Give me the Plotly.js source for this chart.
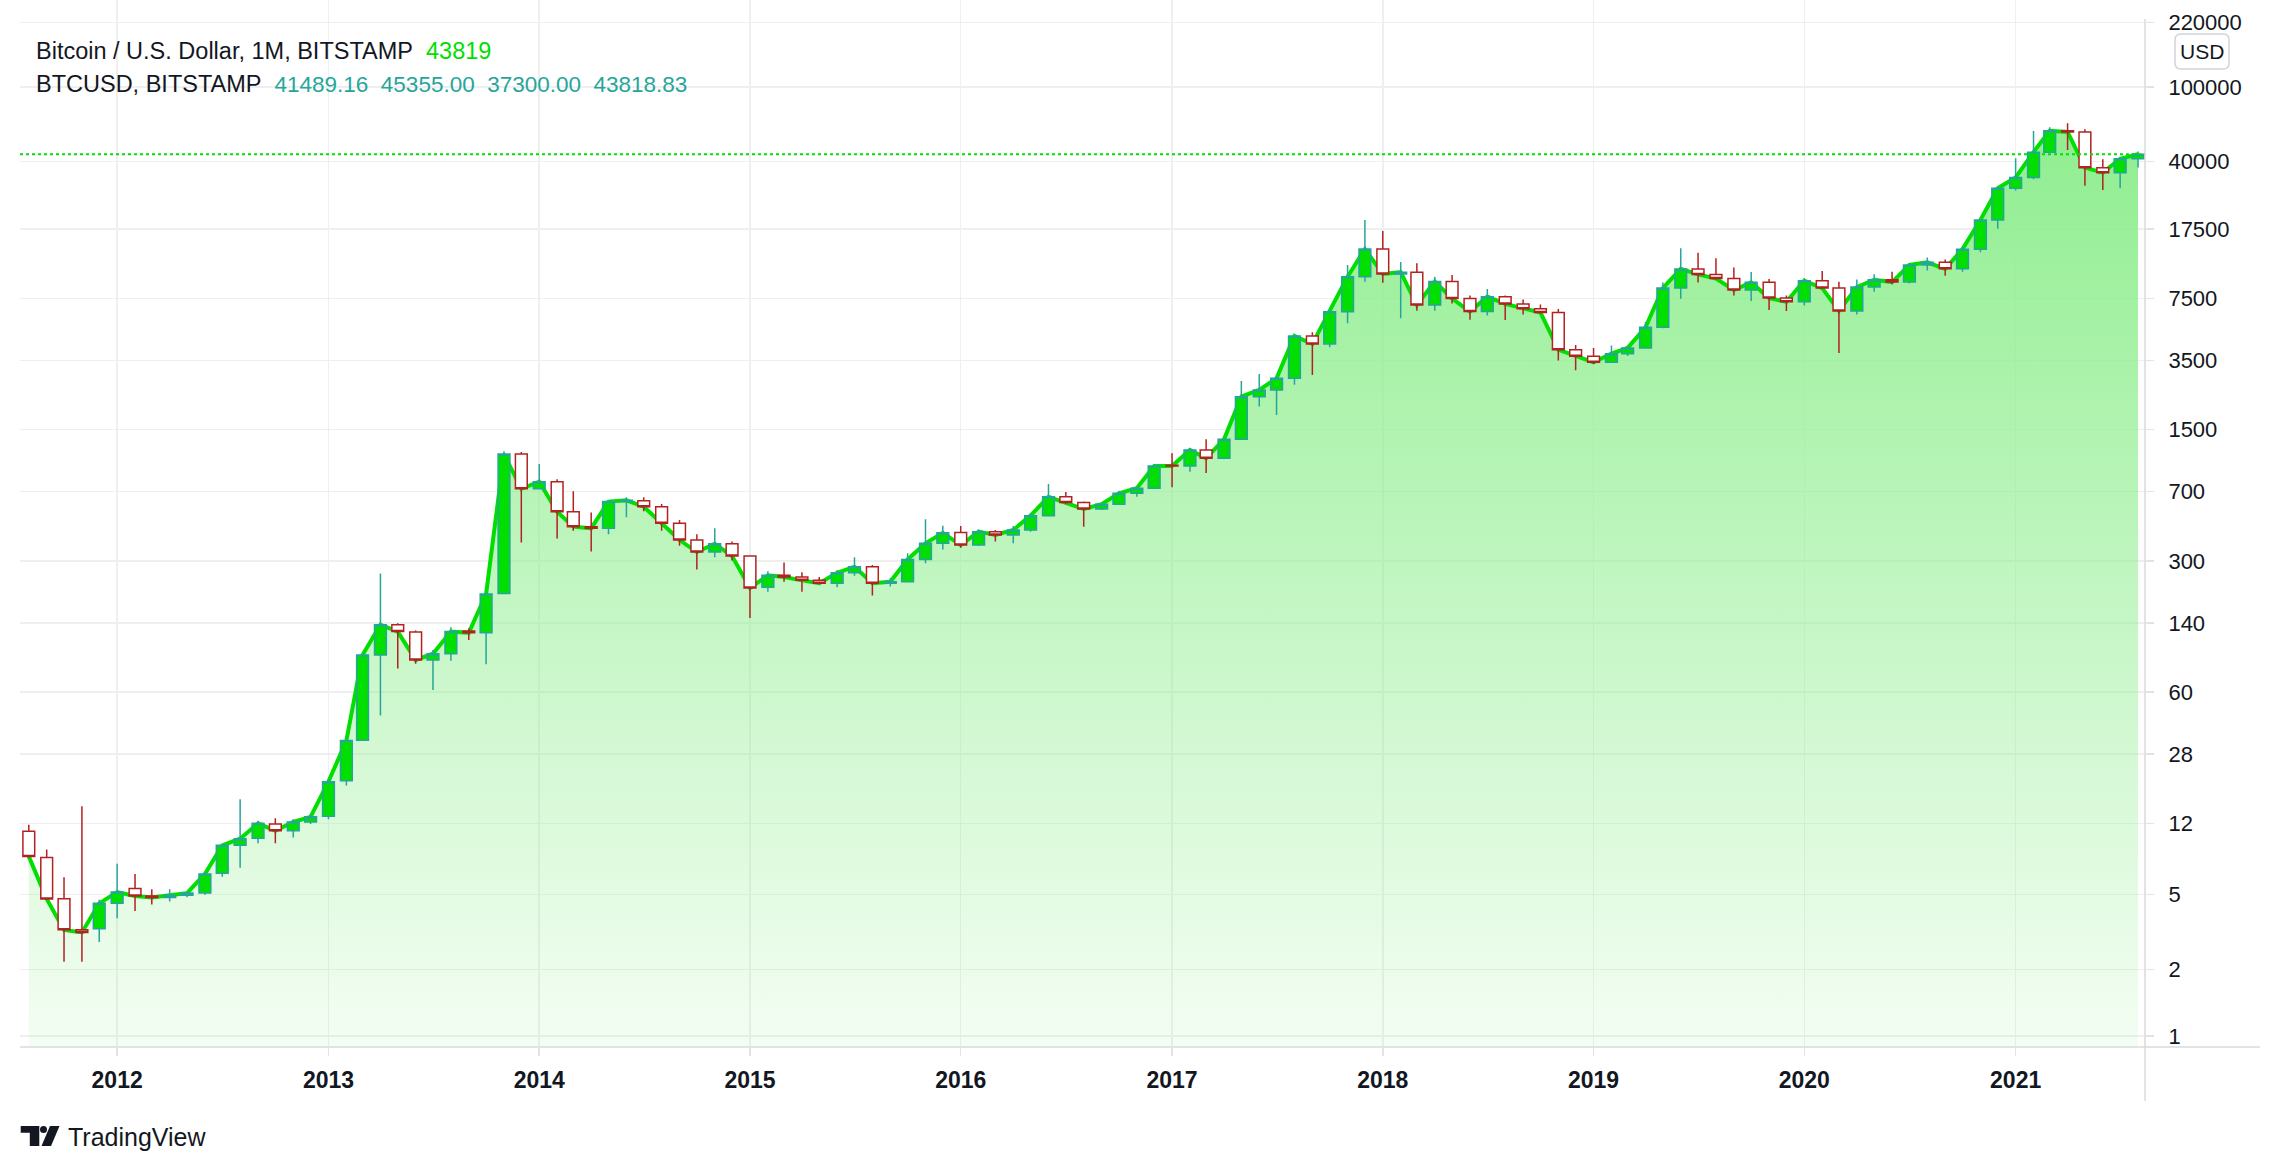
<!DOCTYPE html>
<html><head><meta charset="utf-8">
<script src="https://cdn.plot.ly/plotly-3.0.1.min.js"></script>
<style>html,body{margin:0;padding:0;background:#fff;}#chart{width:2280px;height:1172px;}</style>
</head><body><div id="chart"></div>
<script>
const months = [
'2011-08','2011-09','2011-10','2011-11','2011-12',
'2012-01','2012-02','2012-03','2012-04','2012-05','2012-06','2012-07','2012-08','2012-09','2012-10','2012-11','2012-12',
'2013-01','2013-02','2013-03','2013-04','2013-05','2013-06','2013-07','2013-08','2013-09','2013-10','2013-11','2013-12',
'2014-01','2014-02','2014-03','2014-04','2014-05','2014-06','2014-07','2014-08','2014-09','2014-10','2014-11','2014-12',
'2015-01','2015-02','2015-03','2015-04','2015-05','2015-06','2015-07','2015-08','2015-09','2015-10','2015-11','2015-12',
'2016-01','2016-02','2016-03','2016-04','2016-05','2016-06','2016-07','2016-08','2016-09','2016-10','2016-11','2016-12',
'2017-01','2017-02','2017-03','2017-04','2017-05','2017-06','2017-07','2017-08','2017-09','2017-10','2017-11','2017-12',
'2018-01','2018-02','2018-03','2018-04','2018-05','2018-06','2018-07','2018-08','2018-09','2018-10','2018-11','2018-12',
'2019-01','2019-02','2019-03','2019-04','2019-05','2019-06','2019-07','2019-08','2019-09','2019-10','2019-11','2019-12',
'2020-01','2020-02','2020-03','2020-04','2020-05','2020-06','2020-07','2020-08','2020-09','2020-10','2020-11','2020-12',
'2021-01','2021-02','2021-03','2021-04','2021-05','2021-06','2021-07','2021-08'];

const openP = [
10.9,7.9,4.76,3.25,3.3,
4.5,5.4,4.92,4.84,4.97,5.1,6.5,9.16,10.0,11.9,10.96,12.2,
13.1,20.2,33.2,94.5,137,125.3,89,96,127,124,201,1110,
725,791,548,456,447,620,627,582,475,387,334,370,
318,217,251,246,236,228,259,279,228,232,305,372,
424,364,429,412,438,522,658,614,566,600,686,730,
968,960,1167,1055,1330,2245,2436,2810,4721,4281,6364,9772,
13722,10100,10330,6904,9200,7480,6370,7650,7000,6600,6300,3990,
3680,3420,3800,4080,5250,8500,10750,10050,9550,8300,9120,7520,
7180,9300,8500,6420,8600,9420,9150,11280,11650,10760,13700,19600,
28900,33000,45000,58500,57600,37200,35000,41489.16];

const highP = [
11.8,8.7,6.2,14.8,4.7,
7.3,6.45,5.34,5.34,5.15,6.55,9.2,16.1,12.4,12.76,12.6,13.4,
20.6,33.6,95.3,257,139.4,127.5,100.5,133,131,200,1150,1140,
983,815,703,543,625,653,653,602,495,415,447,380,
320,264,294,261,246,267,313,285,242,329,499,461,
460,440,438,460,537,769,697,620,608,709,744,970,
1121,1190,1330,1345,2719,2965,2900,4750,4940,6450,11273,19580,
17100,11700,11510,9760,9990,7770,8400,7760,7390,6950,6580,4230,
4070,4200,4130,5600,9100,13840,13100,12250,10950,10350,9500,7750,
9580,10480,9180,9450,10070,10380,11450,12380,12060,14100,19850,29300,
41700,58300,61000,64100,59500,41200,42300,45355.00];

const lowP = [
7.9,4.7,2.2,2.2,2.8,
3.75,4.1,4.44,4.6,4.85,5.0,6.24,6.97,9.39,9.39,10.1,11.9,
12.6,19.1,33.0,45,80,85,61.5,88,113.6,84.3,199,375,
720,394,433,336,415,512,550,434,361,270,313,301,
149,205,232,205,225,217,250,196,219,232,291,345,
352,360,380,372,429,516,600,456,560,598,658,730,
740,895,879,1050,1320,1988,1790,2600,2928,4120,5518,9190,
9080,5865,6440,6430,7040,5760,6070,5740,6150,6200,3500,3100,
3350,3390,3700,4060,5200,7450,9100,9400,7750,7250,6500,6420,
6860,8460,3830,6150,8120,8900,8990,10540,9880,10370,13200,17600,
28150,32300,44900,46200,29800,28270,28870,37300.00];

const closeP = [
8.0,4.75,3.25,3.15,4.5,
5.17,4.92,4.84,4.97,5.1,6.45,9.16,9.94,12.0,10.96,12.2,13.0,
20.0,33.1,94.5,137,126,88.9,96,126,124,199.6,1110,725,
791,548,456,447,620,630,582,475,387,334,370,318,
215,251,246,236,228,259,279,228,232,305,372,423,
364,429,412,438,522,658,614,566,600,686,730,959,
960,1167,1055,1330,2245,2436,2810,4721,4281,6364,9772,13722,
10100,10330,6904,9200,7480,6370,7650,7000,6600,6300,3990,3680,
3420,3800,4080,5250,8500,10750,10050,9550,8300,9120,7520,7180,
9300,8500,6420,8600,9420,9150,11280,11650,10760,13700,19600,28900,
33000,45000,58500,57600,37200,35000,41490,43818.83];

const yTickVals = [0.885, 2, 5, 12, 28, 60, 140, 300, 700, 1500, 3500, 7500, 17500, 40000, 100000, 220000];
const yTickText = ['1','2','5','12','28','60','140','300','700','1500','3500','7500','17500','40000','100000','220000'];
const xTickVals = ['2012-01-01','2013-01-01','2014-01-01','2015-01-01','2016-01-01','2017-01-01','2018-01-01','2019-01-01','2020-01-01','2021-01-01'];
const xTickText = ['2012','2013','2014','2015','2016','2017','2018','2019','2020','2021'];

const titleMain = 'Bitcoin / U.S. Dollar, 1M, BITSTAMP';
const titleSymbol = 'BTCUSD, BITSTAMP';

// ---- layout geometry (pixels) ----
const W = 2280, H = 1172;
const M = {l: 20, r: 135, t: 0, b: 125};
const PW = W - M.l - M.r, PH = H - M.t - M.b;
const px = x => (x - M.l) / PW;
const py = y => (M.t + PH - y) / PH;
const pt = (x, y) => px(x).toFixed(5) + ',' + py(y).toFixed(5);

const GREEN = '#00df00', TEAL = '#26a69a', RED = '#b22222', TXT = '#131722', GRID = '#efefef', AXL = '#d9dadc';
const FONT = 'Liberation Sans, Arial, sans-serif';
const yRange = [-0.1118, 5.4633];

const n = closeP.length;
const last = n - 1;

const fillTrace = {
  type: 'scatter', mode: 'lines', x: months, y: closeP,
  line: {color: GREEN, width: 4},
  fill: 'tozeroy',
  fillgradient: {
    type: 'vertical',
    colorscale: [[0, 'rgba(144,238,144,0.10)'], [1, 'rgba(144,238,144,1)']],
    start: Math.pow(10, yRange[0]),
    stop: Math.max(...closeP)
  },
  zorder: -1,
  hoverinfo: 'skip', showlegend: false
};

const candles = {
  type: 'candlestick', x: months, open: openP, high: highP, low: lowP, close: closeP,
  increasing: {line: {color: TEAL, width: 1.5}, fillcolor: GREEN},
  decreasing: {line: {color: RED, width: 1.5}, fillcolor: '#ffffff'},
  whiskerwidth: 0, zorder: 1, showlegend: false, hoverinfo: 'skip'
};

function roundRect(x0, y0, x1, y1, r) {
  return 'M' + pt(x0 + r, y0) + ' L' + pt(x1 - r, y0) + ' Q' + pt(x1, y0) + ' ' + pt(x1, y0 + r) +
    ' L' + pt(x1, y1 - r) + ' Q' + pt(x1, y1) + ' ' + pt(x1 - r, y1) +
    ' L' + pt(x0 + r, y1) + ' Q' + pt(x0, y1) + ' ' + pt(x0, y1 - r) +
    ' L' + pt(x0, y0 + r) + ' Q' + pt(x0, y0) + ' ' + pt(x0 + r, y0) + ' Z';
}

const shapes = [
  // current price dotted line
  {type: 'line', xref: 'paper', yref: 'y', x0: 0, x1: 1, y0: closeP[last], y1: closeP[last],
   line: {color: GREEN, width: 2, dash: '3px,3px'}, layer: 'above'},
  // price scale separator
  {type: 'line', xref: 'paper', yref: 'paper', x0: 1, x1: 1, y0: py(1101), y1: py(19),
   line: {color: AXL, width: 1.5}},
  // time scale separator
  {type: 'line', xref: 'paper', yref: 'paper', x0: 0, x1: px(2260), y0: 0, y1: 0,
   line: {color: AXL, width: 1.5}},
  // USD box
  {type: 'path', xref: 'paper', yref: 'paper', path: roundRect(2175, 34, 2229, 69, 6),
   line: {color: '#d1d4dc', width: 1.5}, fillcolor: '#ffffff'},
  // TradingView logo mark
  {type: 'path', xref: 'paper', yref: 'paper',
   path: 'M' + pt(20.7, 1126) + ' L' + pt(39.3, 1126) + ' L' + pt(39.3, 1146) + ' L' + pt(29.8, 1146) +
         ' L' + pt(29.8, 1132.7) + ' L' + pt(20.7, 1132.7) + ' Z',
   fillcolor: TXT, line: {width: 0}},
  {type: 'circle', xref: 'paper', yref: 'paper', x0: px(40), x1: px(47), y0: py(1133), y1: py(1126),
   fillcolor: TXT, line: {width: 0}},
  {type: 'path', xref: 'paper', yref: 'paper',
   path: 'M' + pt(50, 1126) + ' L' + pt(59.5, 1126) + ' L' + pt(51, 1146) + ' L' + pt(41.5, 1146) + ' Z',
   fillcolor: TXT, line: {width: 0}}
];

const sp = '\u00a0\u00a0';
const ohlcText = [openP[last], highP[last], lowP[last], closeP[last]].map(v => v.toFixed(2)).join(sp);

const annotations = [
  {xref: 'paper', yref: 'paper', x: px(34), y: py(51), xanchor: 'left', yanchor: 'middle', showarrow: false,
   text: titleMain + sp + '<span style="color:' + GREEN + '">' + Math.round(closeP[last]) + '</span>',
   font: {family: FONT, size: 23.5, color: TXT}},
  {xref: 'paper', yref: 'paper', x: px(34), y: py(84), xanchor: 'left', yanchor: 'middle', showarrow: false,
   text: titleSymbol + sp + '<span style="color:' + TEAL + ';font-size:22.5px">' + ohlcText + '</span>',
   font: {family: FONT, size: 23.5, color: TXT}},
  {xref: 'paper', yref: 'paper', x: px(2202), y: py(51.5), xanchor: 'center', yanchor: 'middle', showarrow: false,
   text: 'USD', font: {family: FONT, size: 21, color: TXT}},
  {xref: 'paper', yref: 'paper', x: px(66), y: py(1137), xanchor: 'left', yanchor: 'middle', showarrow: false,
   text: 'TradingView', font: {family: FONT, size: 25, color: TXT}}
];

const layout = {
  width: W, height: H,
  margin: M,
  paper_bgcolor: '#ffffff', plot_bgcolor: '#ffffff',
  showlegend: false,
  boxgap: 0.27, boxgroupgap: 0,
  xaxis: {
    type: 'date', range: ['2011-07-16 18:14', '2021-08-13 01:26'],
    tickvals: xTickVals, ticktext: xTickText,
    showgrid: true, gridcolor: GRID, gridwidth: 1.5,
    ticks: 'outside', ticklen: 8, tickcolor: '#e3e3e3', tickwidth: 1.5,
    ticklabelstandoff: 4,
    tickfont: {family: FONT, size: 23, color: TXT, weight: 'bold'},
    showline: false, zeroline: false, fixedrange: true,
    rangeslider: {visible: false}
  },
  yaxis: {
    type: 'log', range: yRange, side: 'right',
    tickvals: yTickVals, ticktext: yTickText,
    showgrid: true, gridcolor: GRID, gridwidth: 1.5,
    ticks: 'outside', ticklen: 8, tickcolor: '#e3e3e3', tickwidth: 1.5,
    ticklabelstandoff: 10,
    tickfont: {family: FONT, size: 22, color: TXT},
    showline: false, zeroline: false, fixedrange: true
  },
  shapes: shapes,
  annotations: annotations
};

Plotly.newPlot('chart', [fillTrace, candles], layout, {displayModeBar: false, staticPlot: true});
</script>
</body></html>
